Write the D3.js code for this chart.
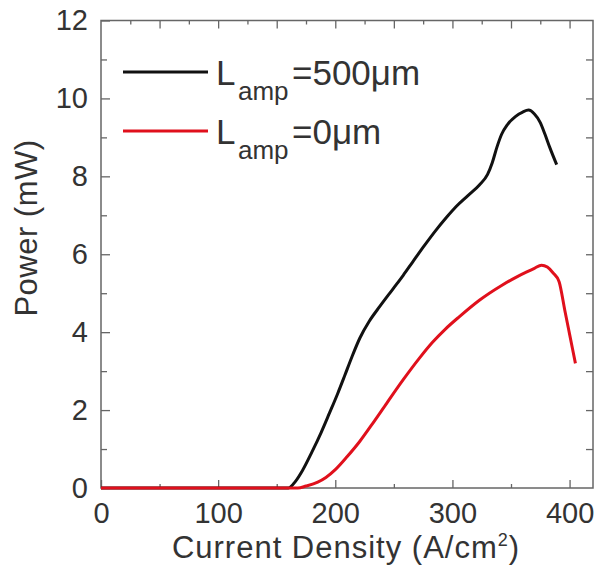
<!DOCTYPE html>
<html>
<head>
<meta charset="utf-8">
<script src="https://cdn.jsdelivr.net/npm/d3@7"></script>
<style>
  html, body { margin: 0; padding: 0; background: #fff; }
  svg { display: block; font-family: "Liberation Sans", Arial, sans-serif; }
</style>
</head>
<body>
<svg id="chart" width="599" height="571"></svg>
<script>
// ---- data ----
const current500 = [0, 50, 100, 150, 160, 166, 172, 180, 188, 195, 202, 208, 214, 221, 229, 238, 249, 258, 266, 276, 286, 295, 303, 313, 323, 330, 334, 338, 342, 347, 354, 360, 365, 370, 375, 379, 383, 389];
const power500   = [0, 0, 0, 0, 0, 0.17, 0.45, 0.92, 1.43, 1.92, 2.42, 2.88, 3.35, 3.85, 4.28, 4.66, 5.1, 5.46, 5.8, 6.22, 6.62, 6.95, 7.22, 7.5, 7.78, 8.05, 8.35, 8.75, 9.08, 9.33, 9.54, 9.65, 9.7, 9.6, 9.38, 9.08, 8.75, 8.3];
const current0 = [0, 50, 100, 150, 168, 175, 185, 192, 200, 210, 221, 232, 244, 258, 272, 283, 294, 306, 323, 342, 355, 363, 370, 376, 381, 386, 391, 396, 400, 405];
const power0   = [0, 0, 0, 0, 0, 0.05, 0.15, 0.27, 0.47, 0.8, 1.2, 1.66, 2.18, 2.78, 3.34, 3.74, 4.08, 4.4, 4.82, 5.2, 5.42, 5.54, 5.64, 5.72, 5.67, 5.52, 5.3, 4.55, 3.95, 3.2];
const xTickLabels = [0, 100, 200, 300, 400];
const yTickLabels = [0, 2, 4, 6, 8, 10, 12];
const seriesNames = ["500", "0"];
const seriesColors = ["#111111", "#e0101c"];

// ---- layout ----
const svg = d3.select("#chart");
const x = d3.scaleLinear().domain([0, 420]).range([101, 593]);
const y = d3.scaleLinear().domain([0, 12]).range([488, 20.5]);
const frameColor = "#666";
const textColor = "#333";

function styleAxis(g) {
  g.select(".domain").remove();
  g.selectAll(".tick line").attr("stroke", frameColor).attr("stroke-width", 1.3);
  g.selectAll(".tick text").attr("fill", textColor).attr("font-size", 29)
    .attr("font-family", "Liberation Sans, Arial, sans-serif");
}
// bottom
svg.append("g").attr("transform", `translate(0,${y(0)})`)
  .call(d3.axisBottom(x).tickValues([50, 150, 250, 350]).tickSizeInner(-4).tickSizeOuter(0).tickFormat(""))
  .call(styleAxis);
svg.append("g").attr("transform", `translate(0,${y(0)})`)
  .call(d3.axisBottom(x).tickValues(xTickLabels).tickSizeInner(-8).tickSizeOuter(0).tickPadding(14))
  .call(styleAxis);
// top
svg.append("g").attr("transform", `translate(0,${y(12)})`)
  .call(d3.axisTop(x).tickValues([25, 75, 125, 175, 225, 275, 325, 375]).tickSizeInner(-4).tickSizeOuter(0).tickFormat(""))
  .call(styleAxis);
svg.append("g").attr("transform", `translate(0,${y(12)})`)
  .call(d3.axisTop(x).tickValues([50, 100, 150, 200, 250, 300, 350, 400]).tickSizeInner(-8).tickSizeOuter(0).tickFormat(""))
  .call(styleAxis);
// left
svg.append("g").attr("transform", `translate(${x(0)},0)`)
  .call(d3.axisLeft(y).tickValues([1, 3, 5, 7, 9, 11]).tickSizeInner(-6).tickSizeOuter(0).tickFormat(""))
  .call(styleAxis);
svg.append("g").attr("transform", `translate(${x(0)},0)`)
  .call(d3.axisLeft(y).tickValues(yTickLabels).tickSizeInner(-9).tickSizeOuter(0).tickPadding(13))
  .call(styleAxis);
// right
svg.append("g").attr("transform", `translate(${x(420)},0)`)
  .call(d3.axisRight(y).tickValues(d3.range(1, 12)).tickSizeInner(-7).tickSizeOuter(0).tickFormat(""))
  .call(styleAxis);

// frame
svg.append("rect")
  .attr("x", x(0)).attr("y", y(12))
  .attr("width", x(420) - x(0)).attr("height", y(0) - y(12))
  .attr("fill", "none").attr("stroke", frameColor).attr("stroke-width", 1.5);

// lines
const line = d3.line().x(d => x(d[0])).y(d => y(d[1])).curve(d3.curveMonotoneX);
const series = [
  current500.map((c, i) => [c, power500[i]]),
  current0.map((c, i) => [c, power0[i]])
];
series.forEach((s, i) => {
  svg.append("path").datum(s)
    .attr("d", line)
    .attr("fill", "none")
    .attr("stroke", seriesColors[i])
    .attr("stroke-width", 3)
    .attr("stroke-linejoin", "round");
});

// legend
const legendY = [72, 131];
seriesNames.forEach((name, i) => {
  svg.append("line")
    .attr("x1", 123).attr("x2", 208)
    .attr("y1", legendY[i]).attr("y2", legendY[i])
    .attr("stroke", seriesColors[i]).attr("stroke-width", 3);
  const t = svg.append("text")
    .attr("x", 216).attr("y", legendY[i] + 13)
    .attr("fill", textColor).attr("font-size", 35);
  t.append("tspan").text("L");
  t.append("tspan").attr("x", 238).attr("dy", 15).attr("font-size", 26).text("amp");
  t.append("tspan").attr("x", 292).attr("dy", -15).text("=" + name + "\u03BCm");
});

// axis titles
const xt = svg.append("text")
  .attr("x", 346).attr("y", 558)
  .attr("text-anchor", "middle")
  .attr("fill", textColor).attr("font-size", 31)
  .attr("letter-spacing", 1);
xt.append("tspan").text("Current Density (A/cm");
xt.append("tspan").attr("font-size", 18).attr("dy", -12).text("2");
xt.append("tspan").attr("dy", 12).text(")");

svg.append("text")
  .attr("transform", "translate(37,228) rotate(-90)")
  .attr("text-anchor", "middle")
  .attr("fill", textColor).attr("font-size", 31)
  .attr("letter-spacing", 0.5)
  .text("Power (mW)");
</script>
</body>
</html>
